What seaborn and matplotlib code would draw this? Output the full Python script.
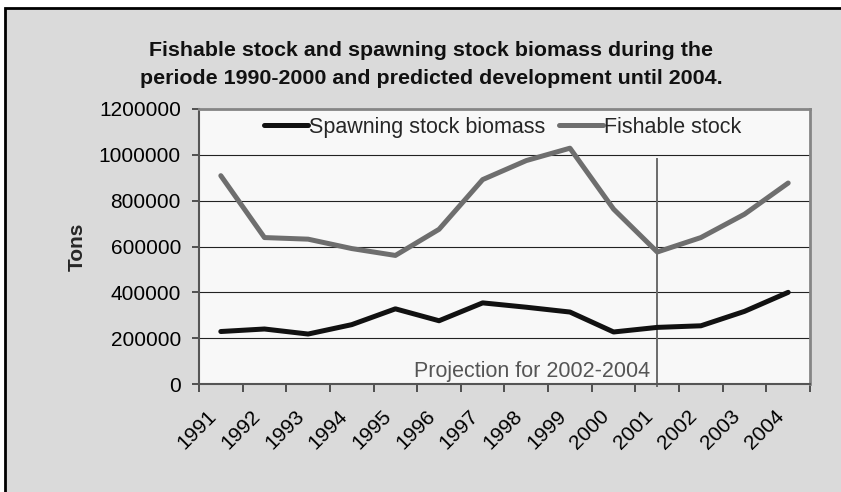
import numpy as np
import pandas as pd
import matplotlib
matplotlib.use("Agg")
import matplotlib.pyplot as plt
import matplotlib.transforms as mtransforms
from matplotlib.patches import Rectangle
import seaborn as sns

# --- chart data ---
years = ["1991", "1992", "1993", "1994", "1995", "1996", "1997",
         "1998", "1999", "2000", "2001", "2002", "2003", "2004"]
spawning_stock = [229000, 240000, 218000, 259000, 328000, 276000, 354000,
                  335000, 314000, 227000, 247000, 254000, 317000, 400000]
fishable_stock = [909000, 639000, 632000, 591000, 561000, 675000, 892000,
                  975000, 1029000, 763000, 576000, 639000, 741000, 877000]
series_names = ["Spawning stock biomass", "Fishable stock"]
y_ticks = [0, 200000, 400000, 600000, 800000, 1000000, 1200000]

title = ("Fishable stock and spawning stock biomass during the\n"
         "periode 1990-2000 and predicted development until 2004.")
projection_label = "Projection for 2002-2004"
projection_year = "2001"

sns.set_theme(style="white")
plt.rcParams["font.family"] = ["Liberation Sans", "DejaVu Sans"]

df = pd.DataFrame({
    "year": years * 2,
    "idx": list(range(len(years))) * 2,
    "tons": spawning_stock + fishable_stock,
    "series": [series_names[0]] * len(years) + [series_names[1]] * len(years),
})

fig = plt.figure(figsize=(8.41, 4.92), dpi=100, facecolor="white")
W, H = 841, 492

# grey chart frame (runs off the right and bottom edge)
fig.patches.append(Rectangle((5 / W, -0.05), 1.1, 1 - 8 / H + 0.05,
                             transform=fig.transFigure, facecolor="#dadada",
                             edgecolor="black", linewidth=2, zorder=-5))

ax = fig.add_axes([199 / W, 1 - 384 / H, (810 - 199) / W, (384 - 109) / H])
ax.set_facecolor("#f8f8f8")

palette = {series_names[0]: "#111111", series_names[1]: "#6e6e6e"}
sns.lineplot(data=df, x="idx", y="tons", hue="series", palette=palette,
             linewidth=3.6, ax=ax, legend=False, zorder=3)

ax.set_xlim(-0.5, len(years) - 0.5)
ax.set_ylim(0, 1200000)
ax.set_yticks(y_ticks)
ax.set_yticklabels([str(v) for v in y_ticks])
ax.yaxis.grid(True, color="#222222", linewidth=0.8)
ax.set_axisbelow(True)

# category boundaries as tick marks, labels at category centres
ax.set_xticks(np.arange(len(years)))
ax.set_xticklabels(years)
ax.set_xticks(np.arange(len(years) + 1) - 0.5, minor=True)
ax.tick_params(axis="x", which="major", length=0, pad=21, labelsize=15,
               colors="black")
ax.tick_params(axis="x", which="minor", length=6, width=1.3, color="#444444",
               direction="out", bottom=True)
ax.tick_params(axis="y", length=5, width=1.3, color="#444444", direction="out",
               left=True, pad=8, labelsize=15, colors="black")
shift = mtransforms.ScaledTranslation(-7 / 100, 0, fig.dpi_scale_trans)
for lab in ax.get_xticklabels():
    lab.set_rotation(45)
    lab.set_ha("right")
    lab.set_va("center")
    lab.set_rotation_mode("anchor")
    lab.set_transform(lab.get_transform() + shift)

for side in ["top", "right"]:
    ax.spines[side].set_color("#858585")
    ax.spines[side].set_linewidth(2)
for side in ["left", "bottom"]:
    ax.spines[side].set_color("#555555")
    ax.spines[side].set_linewidth(1.5)

ax.set_xlabel("")
ax.set_ylabel("Tons", fontsize=15, fontweight="bold", labelpad=9)

# projection marker
px = years.index(projection_year)
ax.vlines(px, -14000, 988000, color="#6b6b6b", linewidth=1.4, zorder=2,
          clip_on=False)
ax.annotate(projection_label, xy=(px, 0), xycoords="data",
            xytext=(-5, 1.5), textcoords="offset points", ha="right",
            va="bottom", fontsize=15.5, color="#555555")

# legend
handles = [plt.Line2D([], [], color=palette[n], linewidth=3.6) for n in series_names]
ax.legend(handles, series_names, loc="center", bbox_to_anchor=(0.497, 0.934),
          ncol=2, frameon=False, fontsize=15.5, handlelength=2.05,
          handletextpad=0.05, columnspacing=0.6, borderaxespad=0,
          borderpad=0)

fig.text(431 / W, 1 - 65 / H, title, ha="center", va="center",
         fontsize=15.4, fontweight="bold", linespacing=1.6, color="#111111")

fig.savefig("out.png", dpi=100, facecolor=fig.get_facecolor())
